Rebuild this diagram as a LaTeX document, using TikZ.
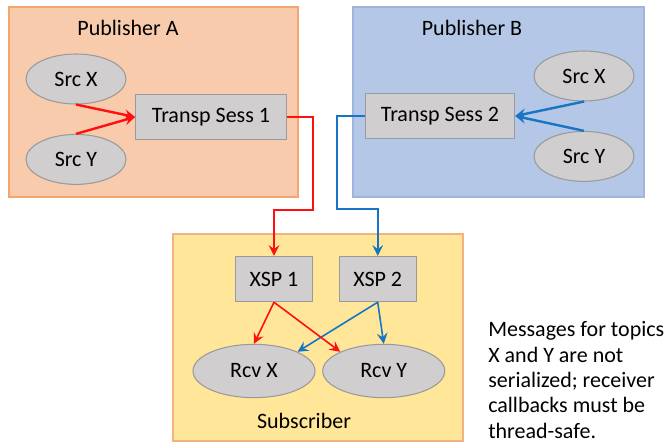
\documentclass[tikz,border=0pt]{standalone}
\usepackage{fontspec}
\setmainfont{Carlito}
\usetikzlibrary{positioning,arrows.meta,shapes.geometric}

\definecolor{pubAfill}{HTML}{F8CBAD}
\definecolor{pubAline}{HTML}{F4A66E}
\definecolor{pubBfill}{HTML}{B4C7E7}
\definecolor{pubBline}{HTML}{9DB5DF}
\definecolor{subfill}{HTML}{FFE699}
\definecolor{subline}{HTML}{F4B183}
\definecolor{nodefill}{HTML}{D0CECE}
\definecolor{nodeline}{HTML}{9A9A9A}
\definecolor{flowred}{HTML}{FF1010}
\definecolor{flowblue}{HTML}{1874C4}

\begin{document}
\begin{tikzpicture}[
      x=0.75pt, y=-0.75pt,
      every node/.style={font=\fontsize{16.5}{19}\selectfont},
      groupbox/.style={line width=0.9pt},
      srcnode/.style={ellipse, draw=nodeline, fill=nodefill, line width=0.8pt,
        minimum width=75pt, minimum height=37.5pt, inner sep=0pt},
      rcvnode/.style={srcnode, minimum width=91.5pt, minimum height=40pt},
      sessbox/.style={rectangle, draw=nodeline, fill=nodefill, line width=0.8pt,
        minimum height=34pt, inner sep=0pt},
      redflow/.style={draw=flowred, line width=1.8pt, -{Stealth[length=8pt,width=8pt,inset=3pt]}},
      blueflow/.style={draw=flowblue, line width=1.8pt, -{Stealth[length=8pt,width=8pt,inset=3pt]}},
      redthin/.style={redflow, line width=1.2pt},
      bluethin/.style={blueflow, line width=1.2pt}
    ]

    \useasboundingbox (0,0) rectangle (671,446);

    % Publisher A
    \draw[groupbox, draw=pubAline, fill=pubAfill] (9,7) rectangle (298,197);
    \node[anchor=base] (pubA) at (128,35) {Publisher A};
    \node[srcnode] (srcXA) at (76,79) {Src X};
    \node[srcnode, below=22pt of srcXA] (srcYA) {Src Y};
    \node[sessbox, minimum width=113pt] (sess1) at (211,117) {Transp Sess 1};

    % Publisher B
    \draw[groupbox, draw=pubBline, fill=pubBfill] (353,7) rectangle (644,197);
    \node[anchor=base] (pubB) at (472,35) {Publisher B};
    \node[srcnode] (srcXB) at (584,76) {Src X};
    \node[srcnode, below=22pt of srcXB] (srcYB) {Src Y};
    \node[sessbox, minimum width=112pt] (sess2) at (440,116) {Transp Sess 2};

    % Subscriber
    \draw[groupbox, draw=subline, fill=subfill] (173,234) rectangle (463,441);
    \node[sessbox, minimum width=58pt] (xsp1) at (274,279) {XSP 1};
    \node[sessbox, minimum width=58pt, right=19pt of xsp1] (xsp2) {XSP 2};
    \node[rcvnode] (rcvX) at (254,371) {Rcv X};
    \node[rcvnode, right=5pt of rcvX] (rcvY) {Rcv Y};
    \node[anchor=base] (sub) at (304,428) {Subscriber};

    % note
    \node[anchor=base west, align=left, inner sep=0pt] (note) at (488,438)
      {Messages for topics\\X and Y are not\\serialized; receiver\\callbacks must be\\thread-safe.};

    % flows into the transport sessions
    \draw[redflow] (srcXA.south) -- (sess1.west);
    \draw[redflow] (srcYA.north) -- (sess1.west);
    \draw[blueflow] (srcXB.south) -- (sess2.east);
    \draw[blueflow] (srcYB.north) -- (sess2.east);

    % sessions to XSPs
    \coordinate (redbend) at (313,210);
    \coordinate (bluebend) at (337,209);
    \draw[redflow] (sess1.east) -| (redbend) -| (xsp1.north);
    \draw[blueflow] (sess2.west) -| (bluebend) -| (xsp2.north);

    % XSPs to receivers
    \draw[bluethin] (xsp2.south) -- (rcvX.north east);
    \draw[bluethin] (xsp2.south) -- (rcvY.north);
    \draw[redthin] (xsp1.south) -- (rcvX.north);
    \draw[redthin] (xsp1.south) -- (rcvY.north west);

\end{tikzpicture}
\end{document}
